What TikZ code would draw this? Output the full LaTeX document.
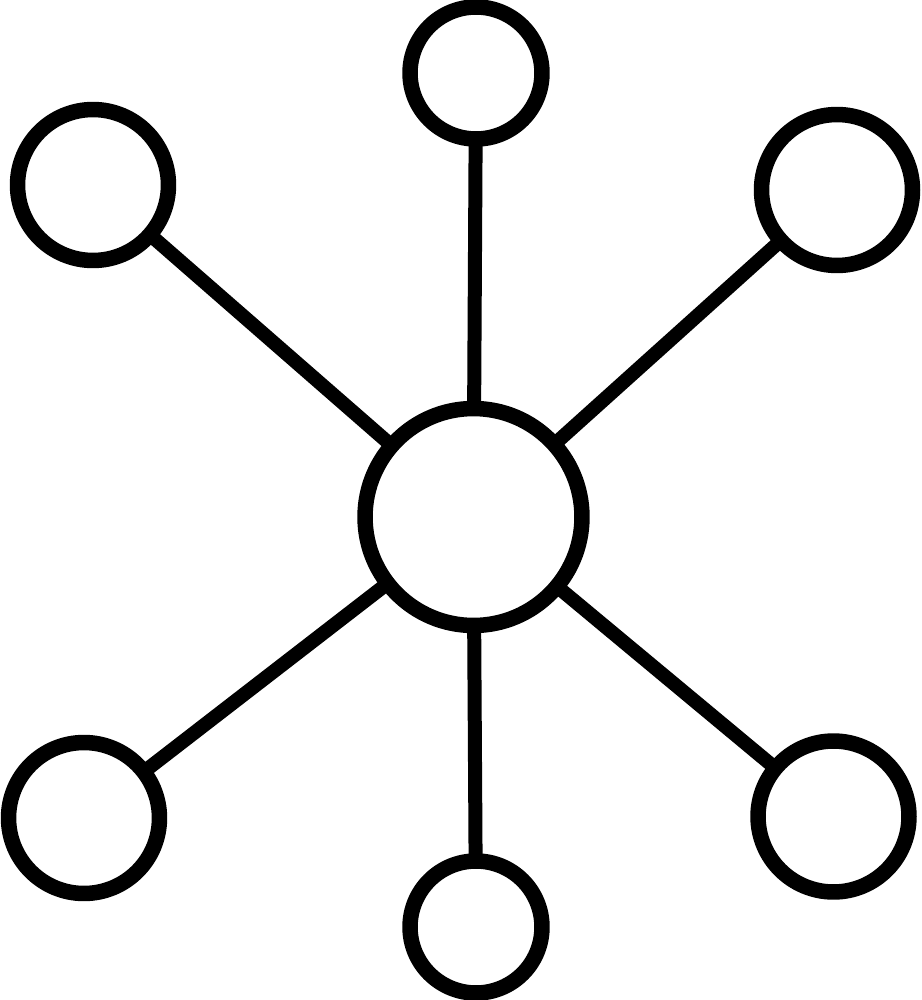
\documentclass[tikz,border=0pt]{standalone}
\begin{document}
\begin{tikzpicture}[x=0.02cm,y=-0.02cm,
  ring/.style={circle,draw=black,fill=white,line width=0.31cm,inner sep=0pt,outer sep=0pt},
  hub/.style={ring,minimum size=4.34cm},
  small/.style={ring,minimum size=2.64cm},
  big/.style={ring,minimum size=3.02cm},
  link/.style={draw=black,line width=0.28cm}]
\useasboundingbox[fill=white] (0,0) rectangle (922,1000);
\node[hub] (c) at (473.5,517) {};
\node[small] (t) at (476,73) {};
\node[small] (b) at (476,927) {};
\node[big] (tl) at (93,185) {};
\node[big] (tr) at (837,190) {};
\node[big] (bl) at (84,818) {};
\node[big] (br) at (833.5,816.5) {};
\foreach \n in {t,b,tl,tr,bl,br}{\draw[link] (c) -- (\n);}
\end{tikzpicture}
\end{document}
